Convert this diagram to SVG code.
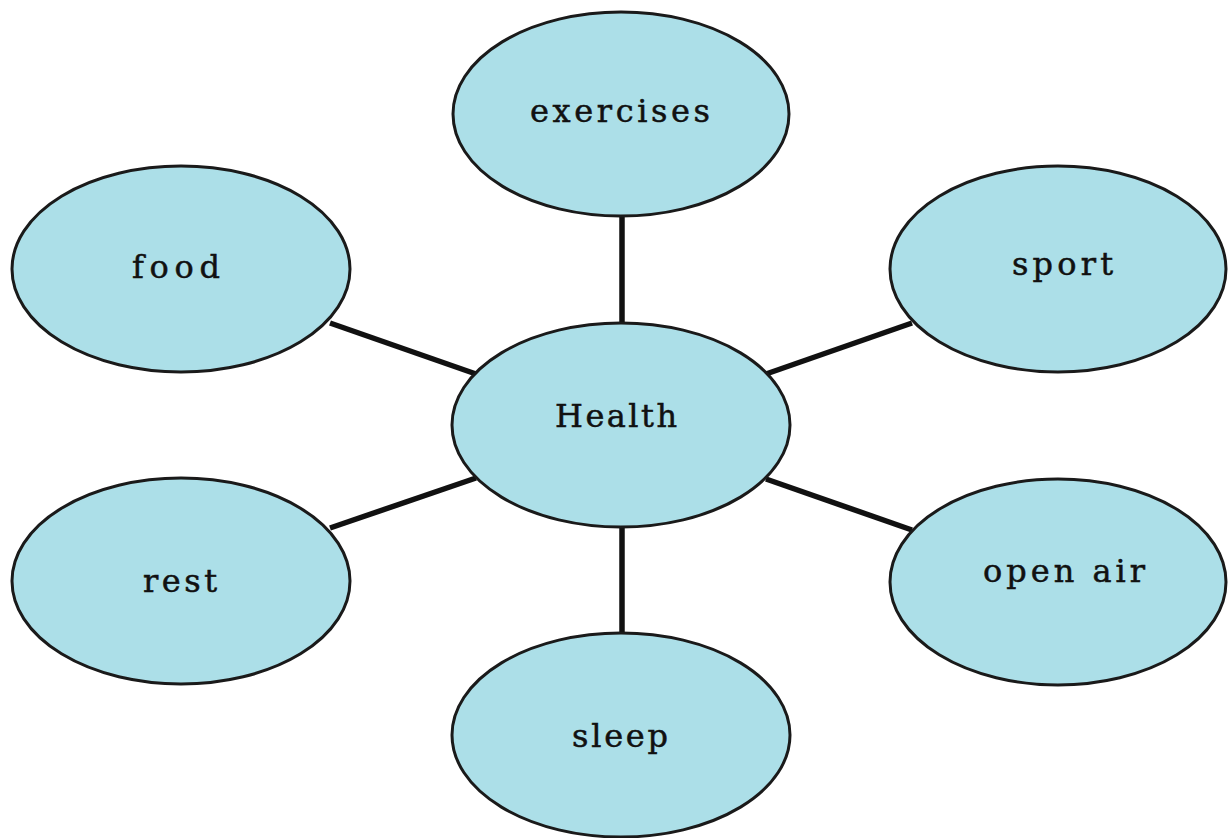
<svg xmlns="http://www.w3.org/2000/svg" width="1231" height="838" viewBox="0 0 1231 838">
<style>
.node ellipse{fill:#acdfe8;stroke:#1a1a1a;stroke-width:3}
.node text{font-family:"DejaVu Serif","Liberation Serif",serif;font-size:32px;fill:#111;stroke:#111;stroke-width:0.5}
.conn line{stroke:#111;stroke-width:5.5;stroke-linecap:butt}
</style>
<rect width="1231" height="838" fill="#ffffff"/>
<g id="connectors" class="conn">
<line x1="622" y1="216" x2="622" y2="324"/>
<line x1="330" y1="323" x2="476" y2="374"/>
<line x1="912" y1="323" x2="766" y2="374"/>
<line x1="330" y1="528" x2="476" y2="478"/>
<line x1="766" y1="479" x2="912" y2="530"/>
<line x1="622" y1="526" x2="622" y2="634"/>
</g>
<g id="exercises" class="node"><ellipse cx="621" cy="114" rx="168" ry="102"/><text x="530" y="122" textLength="180" lengthAdjust="spacing">exercises</text></g>
<g id="food" class="node"><ellipse cx="181" cy="269" rx="169" ry="103"/><text x="132" y="278" textLength="88" lengthAdjust="spacing">food</text></g>
<g id="sport" class="node"><ellipse cx="1058" cy="269" rx="168" ry="103"/><text x="1012" y="275" textLength="101" lengthAdjust="spacing">sport</text></g>
<g id="health" class="node"><ellipse cx="621" cy="425" rx="169" ry="102"/><text x="555" y="427" textLength="122" lengthAdjust="spacing">Health</text></g>
<g id="rest" class="node"><ellipse cx="181" cy="581" rx="169" ry="103"/><text x="143" y="592" textLength="74" lengthAdjust="spacing">rest</text></g>
<g id="open-air" class="node"><ellipse cx="1058" cy="582" rx="168" ry="103"/><text x="983" y="582" textLength="162" lengthAdjust="spacing">open air</text></g>
<g id="sleep" class="node"><ellipse cx="621" cy="735" rx="169" ry="102"/><text x="572" y="747" textLength="96" lengthAdjust="spacing">sleep</text></g>
</svg>
